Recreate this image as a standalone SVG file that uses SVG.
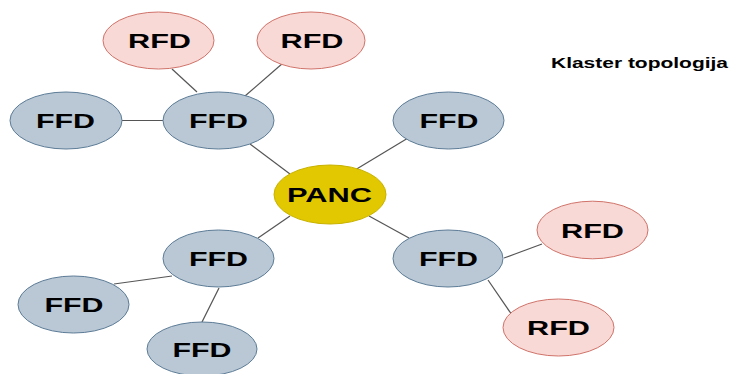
<svg xmlns="http://www.w3.org/2000/svg" width="729" height="374" viewBox="0 0 729 374">
<style>
.ffd{fill:#b9c8d4;stroke:#5d7c97;stroke-width:1}
.rfd{fill:#f9d9d5;stroke:#d0736a;stroke-width:1}
.panc{fill:#e1c800;stroke:#c9b200;stroke-width:1}
.t{font-family:"Liberation Sans",Arial,sans-serif;font-weight:bold;font-size:21px;fill:#000;text-anchor:middle}
.title{font-family:"Liberation Sans",Arial,sans-serif;font-weight:bold;font-size:15px;fill:#000}
#connectors line{stroke:#555;stroke-width:1.2}
</style>
<rect width="729" height="374" fill="#fff"/>
<g id="connectors">
<line x1="172" y1="69" x2="197" y2="92"/>
<line x1="283" y1="63" x2="245" y2="96"/>
<line x1="122" y1="120.5" x2="163" y2="120.5"/>
<line x1="250" y1="144" x2="290" y2="174"/>
<line x1="418" y1="132" x2="355" y2="170"/>
<line x1="290" y1="216" x2="258" y2="238"/>
<line x1="172" y1="276" x2="114" y2="284"/>
<line x1="219" y1="288" x2="202" y2="322"/>
<line x1="369" y1="216" x2="409" y2="238"/>
<line x1="504" y1="258" x2="542" y2="244"/>
<line x1="488" y1="280" x2="512" y2="315"/>
</g>
<g id="rfd1"><ellipse class="rfd" cx="158.5" cy="40.5" rx="55.5" ry="28.5"/><text class="t" x="159.5" y="48" textLength="63" lengthAdjust="spacingAndGlyphs">RFD</text></g>
<g id="rfd2"><ellipse class="rfd" cx="311" cy="40.5" rx="54" ry="28.5"/><text class="t" x="312" y="48" textLength="63" lengthAdjust="spacingAndGlyphs">RFD</text></g>
<g id="ffd1"><ellipse class="ffd" cx="66" cy="120.5" rx="56" ry="28.5"/><text class="t" x="65.5" y="128" textLength="59" lengthAdjust="spacingAndGlyphs">FFD</text></g>
<g id="ffd2"><ellipse class="ffd" cx="218.5" cy="120.5" rx="55.5" ry="28.5"/><text class="t" x="218.5" y="128" textLength="59" lengthAdjust="spacingAndGlyphs">FFD</text></g>
<g id="ffd3"><ellipse class="ffd" cx="448.5" cy="120.5" rx="55.5" ry="28.5"/><text class="t" x="449" y="128" textLength="59" lengthAdjust="spacingAndGlyphs">FFD</text></g>
<g id="panc"><ellipse class="panc" cx="330" cy="194.5" rx="56" ry="29.5"/><text class="t" x="329.5" y="202" textLength="85" lengthAdjust="spacingAndGlyphs">PANC</text></g>
<g id="ffd4"><ellipse class="ffd" cx="218.5" cy="258.5" rx="55.5" ry="28.5"/><text class="t" x="218.5" y="266" textLength="59" lengthAdjust="spacingAndGlyphs">FFD</text></g>
<g id="ffd5"><ellipse class="ffd" cx="448" cy="258.5" rx="55" ry="28.5"/><text class="t" x="448.5" y="266" textLength="59" lengthAdjust="spacingAndGlyphs">FFD</text></g>
<g id="rfd3"><ellipse class="rfd" cx="592.5" cy="230" rx="55.5" ry="28.8"/><text class="t" x="592.5" y="237.5" textLength="63" lengthAdjust="spacingAndGlyphs">RFD</text></g>
<g id="ffd6"><ellipse class="ffd" cx="73.5" cy="304.5" rx="55.5" ry="28.5"/><text class="t" x="74" y="312" textLength="59" lengthAdjust="spacingAndGlyphs">FFD</text></g>
<g id="rfd4"><ellipse class="rfd" cx="558.5" cy="327.5" rx="55.5" ry="28.5"/><text class="t" x="558.5" y="335" textLength="63" lengthAdjust="spacingAndGlyphs">RFD</text></g>
<g id="ffd7"><ellipse class="ffd" cx="202" cy="349" rx="55" ry="27"/><text class="t" x="202" y="357" textLength="59" lengthAdjust="spacingAndGlyphs">FFD</text></g>
<text class="title" x="551" y="68" textLength="177" lengthAdjust="spacingAndGlyphs">Klaster topologija</text>
</svg>
